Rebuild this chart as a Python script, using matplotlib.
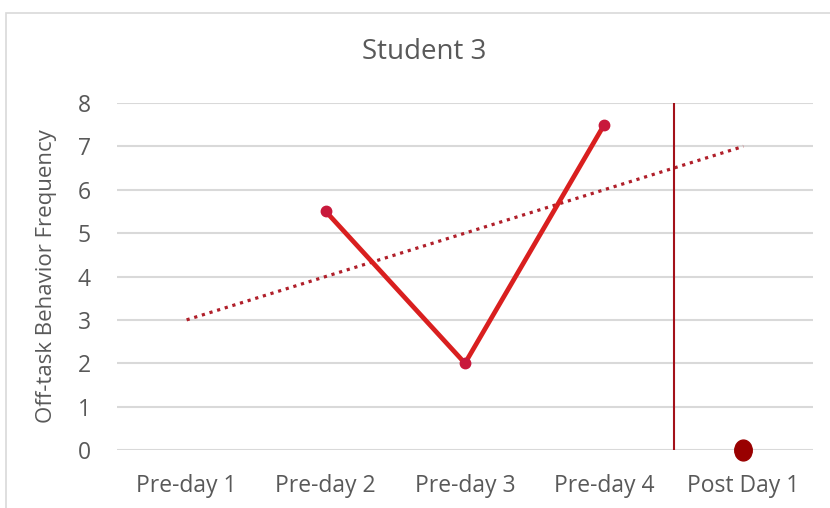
import numpy as np
import matplotlib.pyplot as plt
from matplotlib.patches import Rectangle
from matplotlib.path import Path
from matplotlib.transforms import Affine2D

# Donnees
jours = ['Pre-day 1', 'Pre-day 2', 'Pre-day 3', 'Pre-day 4', 'Post Day 1']
pre_x = [1, 2, 3]
pre_y = [5.5, 2, 7.5]
post_x = [4]
post_y = [0]
phase_change = 3.5
yticks = [0, 1, 2, 3, 4, 5, 6, 7, 8]

gris = '#595959'
plt.rcParams['font.family'] = ['Open Sans', 'DejaVu Sans']

fig = plt.figure(figsize=(8.30, 5.08), dpi=100)
# cadre exterieur du graphique
fig.patches.append(Rectangle((6/830, -0.1), 1.2, (508-13)/508 + 0.1, transform=fig.transFigure,
                             fill=False, edgecolor='#d9d9d9', linewidth=1.2))

ax = fig.add_axes([117/830, (508-450)/508, (813-117)/830, (450-103)/508])

for v in yticks:
    ax.axhline(v, color='#d9d9d9', linewidth=1.5, zorder=0)

# droite de tendance (regression lineaire sur la phase pre)
a, b = np.polyfit(pre_x, pre_y, 1)
tx = np.array([0, 4])
ax.plot(tx, a*tx + b, linestyle=(0, (1, 1.5)), color='#b01f2a', linewidth=2.3, zorder=2)

ax.plot(pre_x, pre_y, color='#d91f1f', linewidth=3.4, marker='o', markersize=7.5,
        markerfacecolor='#c8193c', markeredgecolor='#c8193c', zorder=3, clip_on=False)

# point "post" legerement ovale
ovale = Path.unit_circle().transformed(Affine2D().scale(0.84, 1.0))
ax.plot(post_x, post_y, linestyle='none', marker=ovale, markersize=15,
        markerfacecolor='#990000', markeredgecolor='#990000', zorder=4, clip_on=False)

ax.axvline(phase_change, color='#a3111a', linewidth=1.5, zorder=2)

ax.set_xlim(-0.5, 4.5)
ax.set_ylim(0, 8)
ax.set_xticks(range(len(jours)))
ax.set_xticklabels(jours)
ax.set_yticks(yticks)
for s in ax.spines.values():
    s.set_visible(False)
ax.tick_params(axis='both', length=0, colors=gris, labelsize=16.5)
ax.tick_params(axis='x', pad=17)
ax.tick_params(axis='y', pad=19)

ax.set_ylabel('Off-task Behavior Frequency', color=gris, fontsize=16)
ax.yaxis.set_label_coords(-(117-57)/696, 0.5)

fig.text(424/830, 1 - 52/508, 'Student 3', color=gris, fontsize=20, ha='center', va='center')

fig.savefig('out.png', dpi=100)
